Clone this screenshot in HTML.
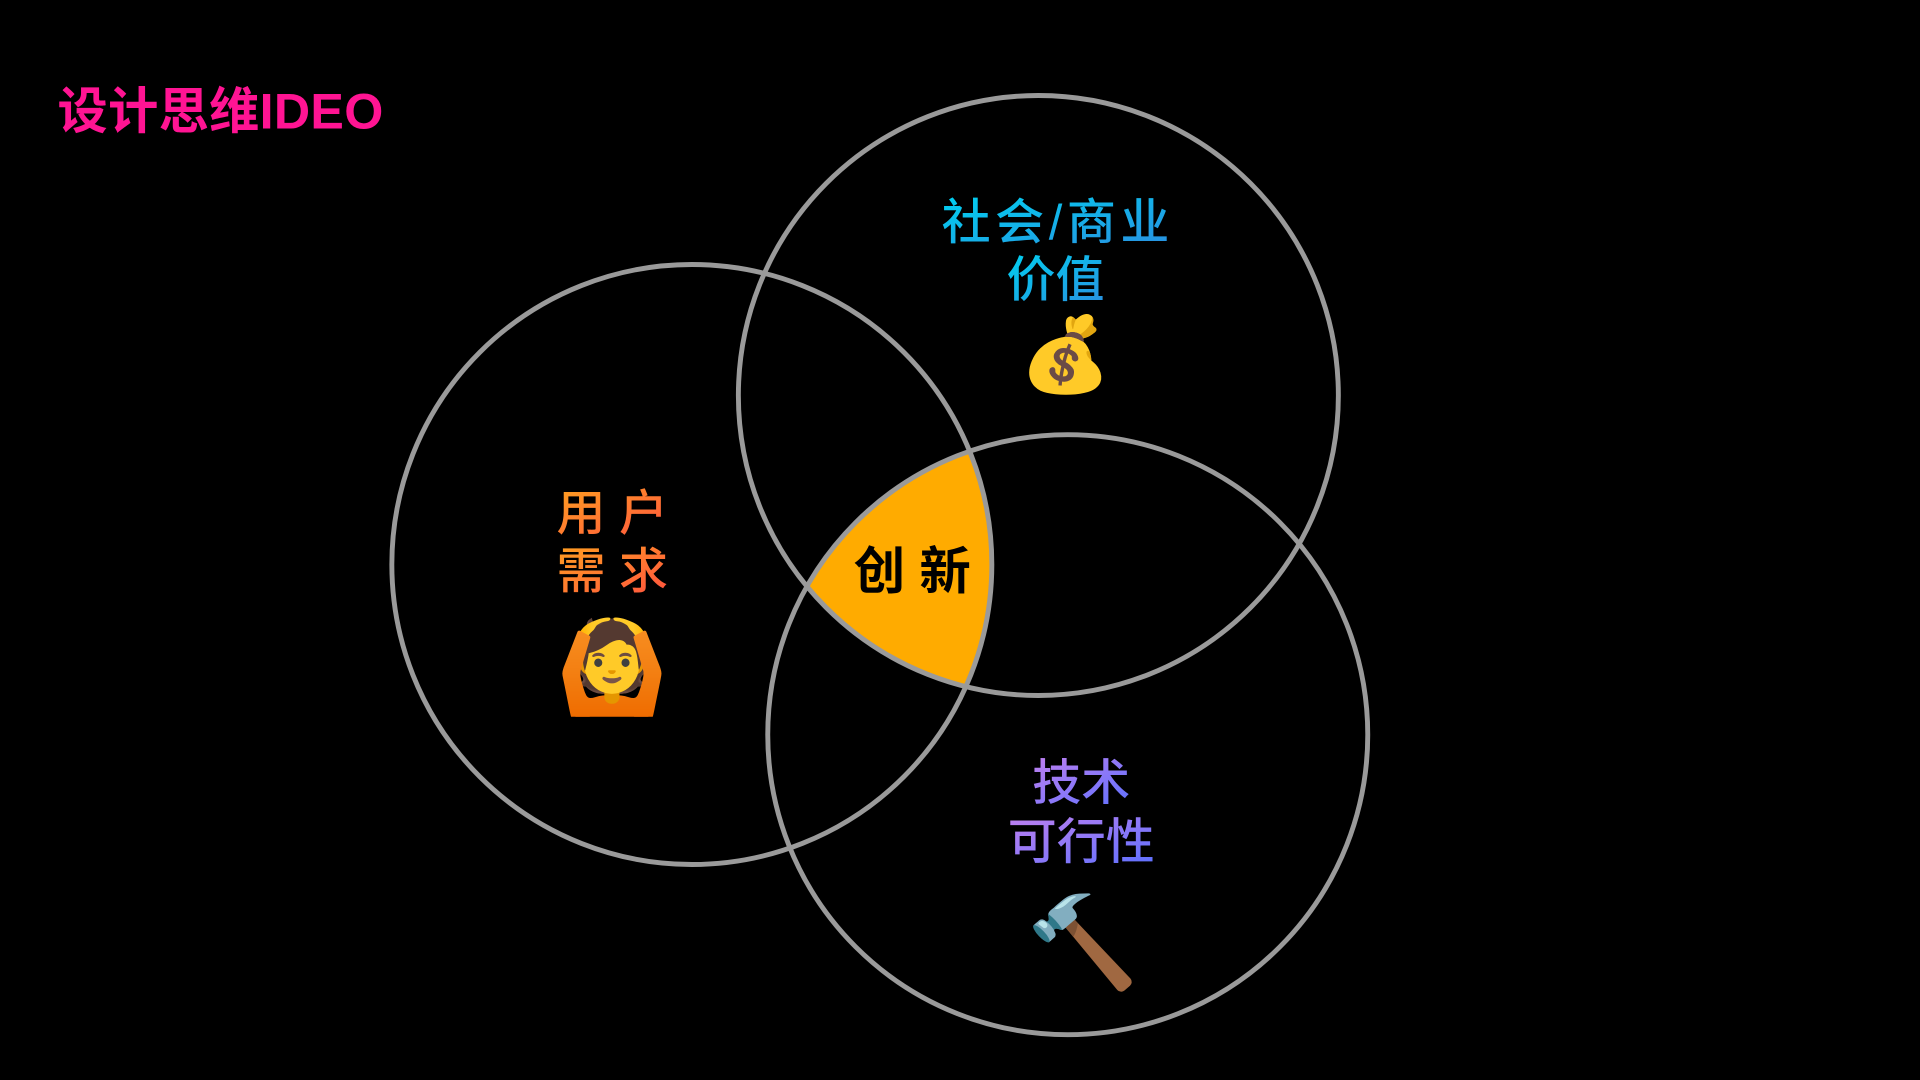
<!DOCTYPE html>
<html><head><meta charset="utf-8"><style>
html,body{margin:0;padding:0;background:#000;width:1920px;height:1080px;overflow:hidden}
svg{display:block}
text{font-family:"Liberation Sans","Noto Sans CJK SC",sans-serif}
</style></head><body>
<svg width="1920" height="1080" viewBox="0 0 1568 882" xmlns="http://www.w3.org/2000/svg">
<defs>
<clipPath id="cL"><circle cx="565" cy="461" r="245"/></clipPath>
<clipPath id="cT"><circle cx="848" cy="323" r="245"/></clipPath>
<linearGradient id="gB" x1="0" y1="0" x2="1" y2="1"><stop offset="0" stop-color="#00d0f0"/><stop offset="1" stop-color="#2a8fe0"/></linearGradient>
<linearGradient id="gO" x1="0" y1="0" x2="1" y2="1"><stop offset="0" stop-color="#ffa020"/><stop offset="1" stop-color="#ff5040"/></linearGradient>
<linearGradient id="gP" x1="0" y1="0" x2="1" y2="1"><stop offset="0" stop-color="#c080f0"/><stop offset="1" stop-color="#5a70ff"/></linearGradient>
</defs>
<rect width="1568" height="882" fill="#000"/>
<g clip-path="url(#cL)"><g clip-path="url(#cT)"><circle cx="872" cy="600" r="245" fill="#ffab00"/></g></g>
<g fill="none" stroke="#9a9a9a" stroke-width="4">
<circle cx="565" cy="461" r="245"/>
<circle cx="848" cy="323" r="245"/>
<circle cx="872" cy="600" r="245"/>
</g>
<text x="47" y="105" font-size="41" font-weight="bold" fill="#ff1493" textLength="266">设计思维IDEO</text>
<text x="862" y="195" font-size="40" font-weight="500" fill="url(#gB)" text-anchor="middle" textLength="186">社会/商业</text>
<text x="862" y="242" font-size="40" font-weight="500" fill="url(#gB)" text-anchor="middle">价值</text>
<text x="870" y="310" font-size="60" text-anchor="middle">💰</text>
<text x="500" y="433" font-size="40" font-weight="500" fill="url(#gO)" text-anchor="middle">用 户</text>
<text x="500" y="480" font-size="40" font-weight="500" fill="url(#gO)" text-anchor="middle">需 求</text>
<text x="500" y="570" font-size="74" text-anchor="middle">🙆</text>
<text x="745" y="481" font-size="42" font-weight="bold" fill="#000" text-anchor="middle">创 新</text>
<text x="883" y="653" font-size="40" font-weight="500" fill="url(#gP)" text-anchor="middle">技术</text>
<text x="883" y="701" font-size="40" font-weight="500" fill="url(#gP)" text-anchor="middle">可行性</text>
<text x="884" y="795" font-size="74" text-anchor="middle">🔨</text>
</svg>
</body></html>
